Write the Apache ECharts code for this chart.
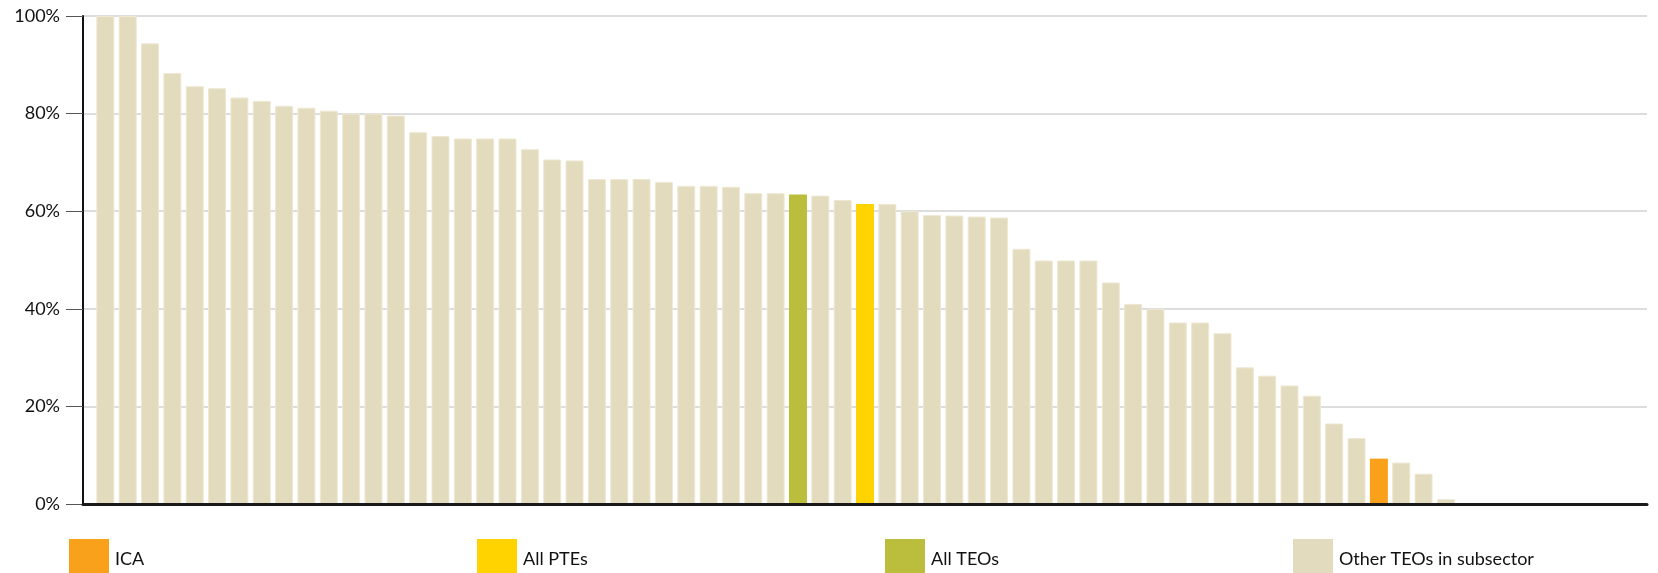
<!DOCTYPE html>
<html>
<head>
<meta charset="utf-8">
<script src="https://cdn.jsdelivr.net/npm/echarts@6/dist/echarts.min.js"></script>
<style>html,body{margin:0;padding:0;background:#fff;}#chart{width:1658px;height:573px;}</style>
</head>
<body>
<div id="chart"></div>
<script>
// Share values (%) of each TEO, sorted descending
const shares = [100,100,94.4,88.3,85.6,85.2,83.3,82.6,81.6,81.2,
  80.6,80.0,80.0,79.6,76.2,75.4,74.9,74.9,74.9,72.7,
  70.6,70.4,66.6,66.6,66.6,66.0,65.2,65.2,65.0,63.7,
  63.7,63.4,63.2,62.3,61.5,61.5,60.0,59.2,59.1,58.9,
  58.7,52.3,49.9,49.9,49.9,45.4,41.0,40.0,37.2,37.2,
  35.0,28.0,26.3,24.3,22.2,16.5,13.5,9.3,8.5,6.2,1.0];
// position (0-based) of the highlighted bars
const groupIndex = { 'ICA': 57, 'All PTEs': 34, 'All TEOs': 31 };
const seriesNames = ['ICA', 'All PTEs', 'All TEOs', 'Other TEOs in subsector'];
const seriesColors = ['#F9A11B', '#FFD300', '#BBBD3D', '#E3DBBD'];
const yTicks = [0, 20, 40, 60, 80, 100];
const leadingEmpty = 1, trailingEmpty = 9;

const categories = [];
for (let i = 0; i < leadingEmpty; i++) categories.push('');
shares.forEach((v, i) => categories.push('TEO ' + (i + 1)));
for (let i = 0; i < trailingEmpty; i++) categories.push(' '.repeat(i + 1));

function dataFor(name) {
  const arr = categories.map(() => null);
  shares.forEach((v, i) => {
    const special = Object.keys(groupIndex).find(k => groupIndex[k] === i);
    const g = special || 'Other TEOs in subsector';
    if (g === name) arr[i + leadingEmpty] = v;
  });
  return arr;
}

const font = 'Lato, "Open Sans", sans-serif';
const legendLefts = [69, 477, 885, 1293];

const chart = echarts.init(document.getElementById('chart'), null, { renderer: 'canvas' });
chart.setOption({
  animation: false,
  grid: { left: 83, right: 11, top: 16, bottom: 69, containLabel: false },
  xAxis: {
    type: 'category', data: categories, boundaryGap: false, z: 10,
    axisLine: { show: true, lineStyle: { color: '#1a1a1a', width: 3 } },
    axisTick: { show: false }, axisLabel: { show: false }, splitLine: { show: false }
  },
  yAxis: {
    type: 'value', min: yTicks[0], max: yTicks[yTicks.length - 1], interval: 20,
    axisLine: { show: true, lineStyle: { color: '#111', width: 2 } },
    axisTick: { show: true, length: 17, lineStyle: { color: '#555', width: 1 } },
    axisLabel: { formatter: '{value}%', fontSize: 18, fontFamily: font, color: '#111', margin: 23 },
    splitLine: { show: true, lineStyle: { color: '#DDDDDD', width: 2 } }
  },
  legend: seriesNames.map((n, i) => ({
    data: [n], left: legendLefts[i], top: 539, itemWidth: 40, itemHeight: 40,
    icon: 'rect', padding: 0, itemStyle: { borderWidth: 0 },
    textStyle: { fontSize: 18, fontFamily: font, color: '#111', padding: [0, 0, 0, 1] }
  })),
  series: seriesNames.map((n, i) => ({
    name: n, type: 'bar', data: dataFor(n), barWidth: 18, barGap: '-100%',
    itemStyle: { color: seriesColors[i], borderColor: i === 3 ? '#EEE8D4' : seriesColors[i], borderWidth: i === 3 ? 1 : 0 }
  }))
});
</script>
</body>
</html>
